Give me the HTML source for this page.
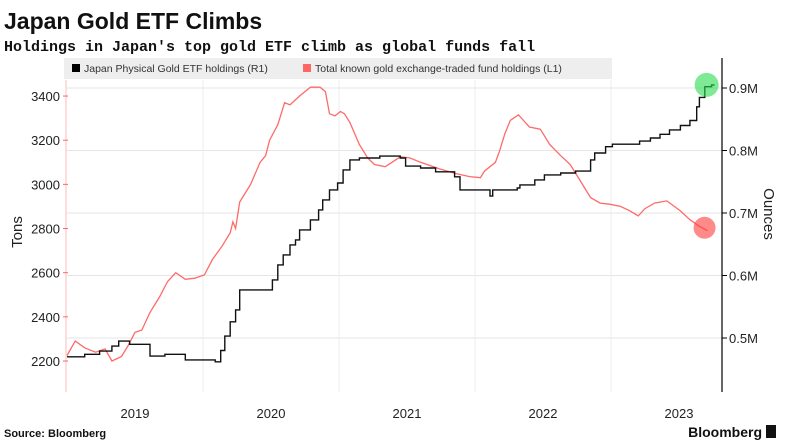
<!DOCTYPE html>
<html><head><meta charset="utf-8">
<style>
body{margin:0;width:788px;height:446px;background:#fff;overflow:hidden;font-family:"Liberation Sans",sans-serif;}
svg{position:absolute;left:0;top:0}
</style></head>
<body>
<svg id="chart" width="788" height="446">
<text x="4" y="29" font-size="23" font-weight="bold" fill="#111">Japan Gold ETF Climbs</text>
<text x="4" y="51" font-size="15" font-weight="bold" fill="#111" font-family="Liberation Mono, monospace">Holdings in Japan's top gold ETF climb as global funds fall</text>
<g id="grid"></g>
<rect x="64" y="58" width="548" height="21" fill="#eeeeee"/>
<rect x="72" y="64" width="8" height="8" fill="#000"/>
<text x="84" y="72" font-size="10.5" fill="#333">Japan Physical Gold ETF holdings (R1)</text>
<rect x="303" y="64" width="8" height="8" fill="#f66"/>
<text x="315" y="72" font-size="10.5" fill="#333">Total known gold exchange-traded fund holdings (L1)</text>
<g id="series"></g>
<text transform="translate(22,232) rotate(-90)" text-anchor="middle" font-size="15" fill="#222">Tons</text>
<text transform="translate(764,214) rotate(90)" text-anchor="middle" font-size="15" fill="#222">Ounces</text>
<text x="4" y="437" font-size="11" font-weight="bold" fill="#111">Source: Bloomberg</text>
<text x="762" y="437" text-anchor="end" font-size="14" font-weight="bold" fill="#111">Bloomberg</text>
<rect x="766" y="425" width="10" height="13" fill="#111"/>
</svg>
<script>
const yearLabels=[2019,2020,2021,2022,2023];
const leftTicks=[2200,2400,2600,2800,3000,3200,3400];
const rightTicks=[0.5,0.6,0.7,0.8,0.9];
const rightTickLabels=["0.5M","0.6M","0.7M","0.8M","0.9M"];
const totalDates=[2019.00,2019.06,2019.13,2019.21,2019.28,2019.33,2019.40,2019.45,2019.50,2019.55,2019.61,2019.68,2019.74,2019.80,2019.87,2019.94,2020.01,2020.07,2020.14,2020.20,2020.22,2020.24,2020.27,2020.35,2020.42,2020.46,2020.49,2020.55,2020.60,2020.64,2020.71,2020.79,2020.86,2020.90,2020.93,2020.97,2021.01,2021.04,2021.08,2021.15,2021.21,2021.26,2021.34,2021.39,2021.45,2021.52,2021.60,2021.74,2021.85,2021.96,2022.04,2022.07,2022.15,2022.18,2022.22,2022.26,2022.32,2022.37,2022.40,2022.48,2022.55,2022.63,2022.70,2022.77,2022.85,2022.92,2022.99,2023.07,2023.14,2023.20,2023.25,2023.32,2023.41,2023.51,2023.58,2023.65,2023.71];
const totalTons=[2225,2290,2260,2240,2255,2200,2220,2270,2330,2340,2420,2490,2560,2600,2570,2575,2590,2660,2720,2780,2830,2800,2920,3000,3100,3130,3200,3270,3370,3360,3400,3440,3440,3420,3320,3310,3330,3320,3280,3180,3120,3090,3080,3100,3125,3120,3100,3070,3050,3035,3030,3060,3100,3150,3230,3290,3315,3280,3260,3250,3180,3130,3090,3020,2940,2915,2910,2900,2880,2857,2890,2915,2925,2880,2840,2810,2790];
const japanDates=[2019.00,2019.13,2019.24,2019.33,2019.38,2019.46,2019.61,2019.72,2019.87,2020.09,2020.13,2020.16,2020.20,2020.24,2020.27,2020.51,2020.55,2020.59,2020.64,2020.68,2020.71,2020.79,2020.85,2020.88,2020.93,2020.99,2021.03,2021.08,2021.15,2021.30,2021.45,2021.49,2021.60,2021.71,2021.85,2021.89,2022.11,2022.13,2022.15,2022.31,2022.33,2022.44,2022.51,2022.63,2022.74,2022.85,2022.88,2022.96,2023.01,2023.21,2023.29,2023.36,2023.43,2023.51,2023.58,2023.63,2023.65,2023.69,2023.74];
const japanOz=[0.470,0.474,0.479,0.487,0.495,0.490,0.471,0.474,0.465,0.462,0.480,0.503,0.526,0.545,0.577,0.593,0.617,0.633,0.649,0.657,0.673,0.689,0.705,0.721,0.737,0.748,0.769,0.785,0.788,0.791,0.788,0.775,0.772,0.766,0.758,0.737,0.727,0.737,0.737,0.740,0.745,0.753,0.761,0.764,0.767,0.785,0.796,0.806,0.810,0.815,0.820,0.826,0.833,0.840,0.848,0.870,0.885,0.902,0.905];

const NS="http://www.w3.org/2000/svg";
const X=t=>67+136*(t-2019);
const YL=v=>361-(v-2200)*0.2208;
const YR=v=>338-(v-0.5)*625;
const grid=document.getElementById('grid');
const series=document.getElementById('series');
function mk(tag,attrs,parent){const e=document.createElementNS(NS,tag);for(const k in attrs)e.setAttribute(k,attrs[k]);parent.appendChild(e);return e;}

// horizontal gridlines (right axis)
rightTicks.forEach((v,i)=>{
  const l=mk('line',{x1:67,x2:722,y1:YR(v),y2:YR(v),stroke:'#e6e6e6','stroke-width':1},grid);
  
  
  const tk=mk('line',{x1:722,x2:727,y1:YR(v),y2:YR(v),stroke:'#000'},grid);
  
  
  const t=mk('text',{x:729,y:YR(v)+5,'font-size':13,fill:'#222'},grid);
  t.textContent=rightTickLabels[i];
  
  
});
// vertical gridlines and year labels
yearLabels.forEach(y=>{
  if(y>2019){const l=mk('line',{x1:X(y),x2:X(y),y1:80,y2:392,stroke:'#ececec'},grid);
  
  }
  const t=mk('text',{x:X(y+0.5),y:418,'text-anchor':'middle','font-size':13,fill:'#222'},grid);
  t.textContent=y;
  
  
});
// left axis
const la=mk('line',{x1:66,x2:66,y1:80,y2:392,stroke:'#fbb','stroke-width':1},grid);


leftTicks.forEach(v=>{
  const tk=mk('line',{x1:63,x2:68,y1:YL(v),y2:YL(v),stroke:'#f66'},grid);
  
  
  const t=mk('text',{x:60,y:YL(v)+5,'text-anchor':'end','font-size':13,fill:'#222'},grid);
  t.textContent=v;
  
  
});
const ra=mk('line',{x1:722,x2:722,y1:58,y2:392,stroke:'#000','stroke-width':1.2},grid);



// red series
let d=totalDates.map((t,i)=>(i?'L':'M')+X(t).toFixed(1)+','+YL(totalTons[i]).toFixed(1)).join('');
const red=mk('path',{d:d,fill:'none',stroke:'#ff6a6a','stroke-width':1.3},series);


// black step series
let sd='';
japanDates.forEach((t,i)=>{
  const x=X(t).toFixed(1),y=YR(japanOz[i]).toFixed(1);
  if(i===0)sd+='M'+x+','+y; else sd+='H'+x+'V'+y;
});
sd+='H'+(X(japanDates[japanDates.length-1])+3).toFixed(1);
const blk=mk('path',{d:sd,fill:'none',stroke:'#111','stroke-width':1.4},series);


// end markers
const li=japanDates.length-1;
const g=mk('circle',{cx:X(japanDates[li])-5,cy:YR(japanOz[li]),r:12,fill:'rgba(40,220,80,0.6)'},series);


const ti=totalDates.length-1;
const r=mk('circle',{cx:X(totalDates[ti])-3,cy:YL(totalTons[ti])-3,r:11,fill:'rgba(255,60,60,0.6)'},series);


</script>
</body></html>
